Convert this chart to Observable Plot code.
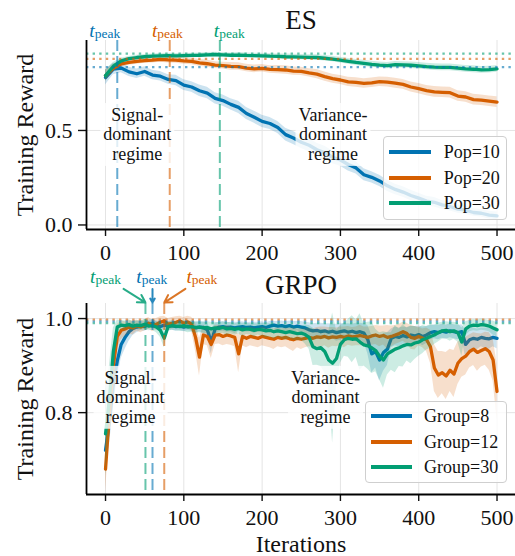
<!DOCTYPE html>
<html><head><meta charset="utf-8">
<script src="https://cdn.jsdelivr.net/npm/d3@7"></script>
<script src="https://cdn.jsdelivr.net/npm/@observablehq/plot@0.6"></script>
<style>
body{margin:0;background:#fff;}
#chart{position:relative;width:515px;height:556px;font-family:"Liberation Serif","Times New Roman",serif;overflow:hidden;background:#fff;}
#chart svg{display:block;position:absolute;left:0;}
.legend{position:absolute;background:rgba(255,255,255,0.8);border:1.2px solid #cfcfcf;border-radius:4px;box-sizing:border-box;}
.legend .sw{position:absolute;height:4px;margin-top:-2px;}
.legend .lb{position:absolute;font-size:18px;line-height:20px;transform:translateY(-50%);white-space:nowrap;color:#111;}
</style></head><body><div id="chart"></div>
<script>
// ---------------- data ----------------
const colors = ["#0173B2", "#D55E00", "#029E73"];

const esIter = [0,10,20,30,40,50,60,70,80,90,100,110,120,130,140,150,160,170,180,190,200,210,220,230,240,250,260,270,280,290,300,310,320,330,340,350,360,370,380,390,400,410,420,430,440,450,460,470,480,490,500];
const esNames = ["Pop=10", "Pop=20", "Pop=30"];
const esMeanPop10 = [0.78,0.825,0.83,0.81,0.80,0.812,0.793,0.787,0.770,0.764,
  0.740,0.730,0.710,0.698,0.670,0.658,0.638,0.622,0.590,0.570,
  0.548,0.537,0.516,0.478,0.460,0.438,0.422,0.398,0.382,0.358,
  0.344,0.320,0.302,0.266,0.252,0.233,0.207,0.188,0.174,0.156,
  0.142,0.126,0.120,0.106,0.098,0.084,0.078,0.066,0.062,0.052,
  0.048];
const esMeanPop20 = [0.79,0.83,0.852,0.860,0.866,0.870,0.872,0.876,0.873,0.872,
  0.868,0.865,0.858,0.853,0.846,0.843,0.839,0.838,0.830,0.826,
  0.829,0.823,0.822,0.820,0.814,0.813,0.805,0.798,0.785,0.774,
  0.767,0.757,0.754,0.749,0.752,0.758,0.756,0.750,0.744,0.730,
  0.721,0.711,0.704,0.702,0.700,0.682,0.677,0.663,0.660,0.655,
  0.650];
const esMeanPop30 = [0.79,0.84,0.868,0.880,0.886,0.890,0.893,0.895,0.896,0.895,
  0.896,0.897,0.898,0.900,0.902,0.900,0.898,0.899,0.897,0.896,
  0.895,0.893,0.892,0.890,0.889,0.888,0.887,0.886,0.882,0.878,
  0.872,0.866,0.860,0.855,0.850,0.846,0.843,0.848,0.847,0.845,
  0.842,0.838,0.835,0.834,0.834,0.830,0.826,0.824,0.821,0.822,
  0.826];
const esSdPop10 = [0.04,0.03,0.025,0.025,0.025,0.025,0.025,0.025,0.025,0.028,
  0.028,0.028,0.03,0.03,0.03,0.03,0.03,0.032,0.032,0.032,
  0.032,0.032,0.032,0.034,0.034,0.034,0.034,0.034,0.034,0.034,
  0.034,0.034,0.032,0.032,0.03,0.03,0.03,0.028,0.028,0.028,
  0.026,0.026,0.025,0.024,0.024,0.022,0.022,0.02,0.02,0.02,
  0.02];
const esSdPop20 = [0.03,0.02,0.016,0.015,0.015,0.015,0.015,0.015,0.016,0.016,
  0.017,0.017,0.018,0.018,0.018,0.018,0.02,0.02,0.02,0.02,
  0.02,0.02,0.022,0.022,0.022,0.022,0.022,0.024,0.024,0.024,
  0.024,0.025,0.025,0.025,0.025,0.025,0.026,0.026,0.026,0.027,
  0.027,0.027,0.028,0.028,0.028,0.028,0.028,0.028,0.028,0.028,
  0.028];
const esSdPop30 = [0.03,0.02,0.014,0.012,0.012,0.012,0.012,0.012,0.012,0.012,
  0.012,0.012,0.012,0.012,0.012,0.012,0.012,0.013,0.013,0.013,
  0.013,0.013,0.013,0.014,0.014,0.014,0.014,0.014,0.015,0.015,
  0.015,0.015,0.016,0.016,0.016,0.016,0.016,0.017,0.017,0.017,
  0.017,0.017,0.018,0.018,0.018,0.018,0.018,0.018,0.018,0.018,
  0.018];
const esPeakIter = [15, 82, 146];
const esPeakReward = [0.835, 0.879, 0.907];
const esPeakLabelX = [-1, 79, 158];

const grpoIter = [0,5,10,15,20,25,30,35,40,45,50,55,60,65,70,75,80,85,90,95,
  100,105,110,115,120,125,130,135,140,145,150,155,160,165,170,175,180,185,190,195,
  200,205,210,215,220,225,230,235,240,245,250,255,260,265,270,275,280,285,290,295,
  300,305,310,315,320,325,330,335,340,345,350,355,360,365,370,375,380,385,390,395,
  400,405,410,415,420,425,430,435,440,445,450,455,460,465,470,475,480,485,490,495,
  500];
const grpoNames = ["Group=8", "Group=12", "Group=30"];
const grpoMeanG8 = [0.72,0.78,0.86,0.91,0.945,0.96,0.972,0.979,0.982,0.984,
  0.983,0.987,0.990,0.985,0.983,0.986,0.984,0.985,0.983,0.984,
  0.982,0.984,0.983,0.980,0.982,0.981,0.976,0.950,0.978,0.982,
  0.983,0.981,0.982,0.980,0.982,0.983,0.981,0.982,0.980,0.982,
  0.983,0.981,0.984,0.986,0.984,0.985,0.983,0.985,0.982,0.984,
  0.982,0.980,0.976,0.974,0.975,0.972,0.974,0.971,0.973,0.970,
  0.972,0.974,0.971,0.973,0.970,0.972,0.969,0.955,0.925,0.930,
  0.912,0.928,0.935,0.958,0.962,0.960,0.964,0.961,0.965,0.963,
  0.966,0.962,0.965,0.970,0.972,0.970,0.973,0.971,0.974,0.972,
  0.970,0.972,0.945,0.955,0.958,0.956,0.960,0.958,0.957,0.960,
  0.958];
const grpoMeanG12 = [0.68,0.80,0.90,0.962,0.975,0.978,0.982,0.980,0.985,0.982,
  0.986,0.990,0.984,0.988,0.992,0.995,0.988,0.990,0.992,0.995,
  0.990,0.993,0.988,0.960,0.918,0.965,0.962,0.945,0.965,0.966,
  0.962,0.965,0.963,0.960,0.925,0.962,0.958,0.962,0.960,0.958,
  0.962,0.960,0.958,0.956,0.960,0.958,0.960,0.957,0.955,0.958,
  0.956,0.958,0.960,0.958,0.961,0.960,0.962,0.959,0.961,0.960,
  0.962,0.960,0.963,0.961,0.962,0.964,0.962,0.960,0.963,0.965,
  0.962,0.964,0.960,0.962,0.965,0.968,0.972,0.968,0.960,0.958,
  0.962,0.958,0.955,0.940,0.895,0.880,0.885,0.878,0.890,0.882,
  0.905,0.915,0.920,0.930,0.935,0.928,0.932,0.936,0.930,0.912,
  0.845];
const grpoMeanG30 = [0.755,0.83,0.93,0.982,0.986,0.985,0.987,0.984,0.986,0.985,
  0.988,0.984,0.985,0.982,0.975,0.958,0.983,0.985,0.984,0.983,
  0.985,0.982,0.983,0.981,0.982,0.980,0.981,0.978,0.980,0.979,
  0.981,0.978,0.979,0.977,0.979,0.976,0.978,0.977,0.975,0.977,
  0.976,0.974,0.975,0.972,0.974,0.972,0.970,0.972,0.970,0.968,
  0.969,0.966,0.960,0.940,0.936,0.938,0.930,0.912,0.905,0.915,
  0.945,0.955,0.958,0.956,0.957,0.950,0.944,0.942,0.938,0.932,
  0.920,0.912,0.925,0.930,0.935,0.938,0.942,0.945,0.944,0.948,
  0.950,0.955,0.958,0.962,0.965,0.970,0.974,0.975,0.972,0.974,
  0.970,0.950,0.978,0.984,0.986,0.985,0.987,0.986,0.984,0.980,
  0.976];
const grpoSdG8 = [0.05,0.05,0.05,0.04,0.03,0.025,0.02,0.015,0.012,0.01,
  0.01,0.01,0.008,0.01,0.01,0.01,0.01,0.01,0.01,0.01,
  0.01,0.01,0.01,0.012,0.01,0.012,0.015,0.025,0.012,0.01,
  0.01,0.01,0.01,0.012,0.01,0.01,0.01,0.01,0.012,0.01,
  0.01,0.01,0.01,0.008,0.01,0.01,0.01,0.01,0.012,0.01,
  0.012,0.012,0.015,0.015,0.015,0.018,0.015,0.018,0.015,0.018,
  0.018,0.015,0.018,0.015,0.02,0.018,0.02,0.03,0.04,0.035,
  0.045,0.04,0.035,0.02,0.02,0.02,0.018,0.02,0.018,0.02,
  0.018,0.02,0.018,0.015,0.015,0.015,0.015,0.015,0.015,0.015,
  0.015,0.015,0.03,0.025,0.022,0.022,0.02,0.022,0.022,0.02,
  0.022];
const grpoSdG12 = [0.05,0.05,0.04,0.025,0.02,0.015,0.015,0.015,0.012,0.012,
  0.012,0.012,0.012,0.012,0.012,0.01,0.012,0.012,0.012,0.01,
  0.012,0.012,0.015,0.03,0.04,0.02,0.02,0.03,0.02,0.02,
  0.02,0.02,0.02,0.02,0.04,0.02,0.02,0.02,0.02,0.02,
  0.02,0.02,0.02,0.022,0.02,0.02,0.02,0.022,0.025,0.02,
  0.022,0.02,0.02,0.02,0.02,0.022,0.02,0.022,0.02,0.02,
  0.02,0.022,0.02,0.02,0.02,0.022,0.02,0.022,0.02,0.02,
  0.022,0.02,0.025,0.022,0.02,0.02,0.02,0.022,0.025,0.025,
  0.02,0.02,0.025,0.035,0.05,0.05,0.045,0.05,0.045,0.05,
  0.045,0.04,0.04,0.035,0.035,0.04,0.035,0.035,0.04,0.045,
  0.06];
const grpoSdG30 = [0.09,0.07,0.05,0.015,0.01,0.01,0.01,0.01,0.01,0.01,
  0.01,0.01,0.01,0.012,0.015,0.02,0.01,0.01,0.01,0.01,
  0.012,0.012,0.012,0.012,0.012,0.012,0.012,0.014,0.012,0.012,
  0.012,0.014,0.012,0.012,0.012,0.014,0.012,0.012,0.014,0.012,
  0.014,0.015,0.014,0.016,0.014,0.015,0.016,0.015,0.016,0.015,
  0.015,0.02,0.025,0.04,0.035,0.04,0.045,0.06,0.17,0.06,
  0.04,0.035,0.04,0.05,0.04,0.06,0.045,0.05,0.055,0.045,
  0.05,0.06,0.045,0.04,0.05,0.04,0.045,0.035,0.04,0.035,
  0.03,0.03,0.025,0.025,0.02,0.02,0.018,0.018,0.02,0.018,
  0.02,0.03,0.015,0.012,0.012,0.012,0.012,0.012,0.012,0.015,
  0.015];
const grpoBandCap = 1.012;   // upper edge of the shaded bands never goes past this
const grpoPeakIter = [60, 75, 51];
const grpoPeakReward = [0.994, 0.998, 0.990];
const grpoPeakLabelX = [59, 123, 0];
const grpoArrowTailX = [60, 102, 23];
const grpoArrowY = [1.063, 1.034]; // tail, head

const xTicks = [0, 100, 200, 300, 400, 500];
const xDomain = [-24.3, 523.6];

// ---------------- drawing ----------------
function makePanel(cfg) {
  const marks = [
    Plot.gridX({ticks: xTicks, stroke: "#e4e4e4", strokeOpacity: 1, strokeWidth: 1}),
    Plot.gridY({ticks: cfg.yTicks, stroke: "#e4e4e4", strokeOpacity: 1, strokeWidth: 1})
  ];
  const cap = cfg.bandCap ?? Infinity;
  cfg.series.forEach((s, k) => {
    const rows = cfg.iters.map((it, i) => ({it, name: cfg.names[k], mean: s.mean[i], lo: s.mean[i] - s.sd[i], hi: Math.min(cap, s.mean[i] + s.sd[i])}));
    marks.push(Plot.areaY(rows, {x: "it", y1: "lo", y2: "hi", fill: "name", fillOpacity: 0.2}));
    marks.push(Plot.line(rows, {x: "it", y: "mean", stroke: "name", strokeWidth: 3.3}));
  });
  const peaks = cfg.names.map((n, k) => ({name: n, it: cfg.peakIter[k], reward: cfg.peakReward[k], lx: cfg.labelX[k]}));
  marks.push(Plot.ruleY(peaks, {y: "reward", stroke: "name", strokeOpacity: 0.6, strokeWidth: 2.2, strokeDasharray: "2.4,4.2"}));
  marks.push(Plot.ruleX(peaks, {x: "it", stroke: "name", strokeOpacity: 0.6, strokeWidth: 2, strokeDasharray: "11,5"}));
  if (cfg.arrowTailX) {
    const arr = cfg.names.map((n, k) => ({name: n, x1: cfg.arrowTailX[k], x2: cfg.peakIter[k], y1: cfg.arrowY[0], y2: cfg.arrowY[1]}));
    marks.push(Plot.arrow(arr, {x1: "x1", y1: "y1", x2: "x2", y2: "y2", stroke: "name", strokeWidth: 2, headLength: 9, strokeOpacity: 0.85}));
  }
  marks.push(Plot.text(cfg.annots, {x: "x", y: "y", text: "text", fontSize: 18, lineHeight: 1.08, fill: "#111"}));
  marks.push(Plot.text(peaks, {x: "lx", frameAnchor: "top", dy: cfg.tpeakDy, lineAnchor: "bottom", textAnchor: "middle", fontSize: 19.5, text: () => "TPEAK", fill: "name"}));
  marks.push(Plot.axisX({ticks: xTicks, tickSize: 7, tickPadding: 8, fontSize: 22, label: null, strokeWidth: 1.4}));
  marks.push(Plot.axisY({ticks: cfg.yTicks, tickFormat: d3.format(".1f"), tickSize: 8, tickPadding: 6, fontSize: 22, label: null, strokeWidth: 1.4}));
  marks.push(Plot.ruleX([xDomain[0]], {stroke: "#000", strokeWidth: 1.8}));
  marks.push(Plot.ruleY([cfg.yDomain[0]], {stroke: "#000", strokeWidth: 1.8}));
  marks.push(Plot.text([cfg.title], {frameAnchor: "top", dy: cfg.titleDy, lineAnchor: "bottom", textAnchor: "middle", fontSize: 27, fill: "#111"}));
  marks.push(Plot.text(["Training Reward"], {frameAnchor: "left", dx: -60.7, rotate: -90, textAnchor: "middle", lineAnchor: "middle", fontSize: 24, fill: "#111"}));
  if (cfg.xLabel) marks.push(Plot.text([cfg.xLabel], {frameAnchor: "bottom", dy: 57.7, lineAnchor: "bottom", textAnchor: "middle", fontSize: 24, fill: "#111"}));
  return Plot.plot({
    width: 515, height: cfg.height,
    marginLeft: 86, marginRight: 0, marginTop: cfg.marginTop, marginBottom: cfg.marginBottom,
    style: {fontFamily: "'Liberation Serif', 'Times New Roman', serif", background: cfg.background, color: "#111"},
    x: {domain: xDomain},
    y: {domain: cfg.yDomain},
    color: {domain: cfg.names, range: colors},
    marks
  });
}

function decorate(svg) {
  const texts = d3.select(svg).selectAll("text");
  texts.filter(function () { return this.textContent.includes("dominant"); }).each(function () {
    const b = this.getBBox(), pad = 3;
    const node = this;
    d3.select(this.parentNode).insert("rect", () => node)
      .attr("x", b.x - pad).attr("y", b.y - pad + 1)
      .attr("width", b.width + 2 * pad).attr("height", b.height + 2 * pad - 2)
      .attr("transform", this.getAttribute("transform"))
      .attr("fill", "white").attr("fill-opacity", 0.8).attr("stroke", "none");
  });
  texts.filter(function () { return this.textContent === "TPEAK"; }).each(function () {
    this.textContent = "";
    const t = d3.select(this);
    t.append("tspan").attr("font-style", "italic").attr("font-size", 19.5).text("t");
    t.append("tspan").attr("font-size", 13.5).attr("dy", 1).text("peak");
  });
}

function addLegend(container, cfg) {
  const box = document.createElement("div");
  box.className = "legend";
  Object.assign(box.style, {left: cfg.left + "px", top: cfg.top + "px", width: cfg.width + "px", height: cfg.height + "px"});
  cfg.names.forEach((n, k) => {
    const sw = document.createElement("div");
    sw.className = "sw";
    Object.assign(sw.style, {left: cfg.swLeft + "px", width: cfg.swWidth + "px", top: cfg.rowY[k] + "px", background: colors[k]});
    const lb = document.createElement("div");
    lb.className = "lb";
    Object.assign(lb.style, {left: cfg.textLeft + "px", top: cfg.rowY[k] + "px"});
    lb.textContent = n;
    box.appendChild(sw); box.appendChild(lb);
  });
  container.appendChild(box);
}

const chart = document.getElementById("chart");

const esPlot = makePanel({
  iters: esIter, names: esNames,
  series: [{mean: esMeanPop10, sd: esSdPop10}, {mean: esMeanPop20, sd: esSdPop20}, {mean: esMeanPop30, sd: esSdPop30}],
  peakIter: esPeakIter, peakReward: esPeakReward, labelX: esPeakLabelX,
  yDomain: [-0.024, 0.976], yTicks: [0, 0.5],
  height: 275, marginTop: 40, marginBottom: 46, background: "white",
  title: "ES", titleDy: -12, tpeakDy: -4,
  annots: [{x: 40.5, y: 0.48, text: "Signal-\ndominant\nregime"}, {x: 290.5, y: 0.48, text: "Variance-\ndominant\nregime"}]
});
const grpoPlot = makePanel({
  iters: grpoIter, names: grpoNames,
  series: [{mean: grpoMeanG8, sd: grpoSdG8}, {mean: grpoMeanG12, sd: grpoSdG12}, {mean: grpoMeanG30, sd: grpoSdG30}],
  bandCap: grpoBandCap,
  peakIter: grpoPeakIter, peakReward: grpoPeakReward, labelX: grpoPeakLabelX,
  arrowTailX: grpoArrowTailX, arrowY: grpoArrowY,
  yDomain: [0.626, 1.032], yTicks: [0.8, 1.0],
  height: 294, marginTop: 41, marginBottom: 62, background: "transparent",
  title: "GRPO", titleDy: -9.7, tpeakDy: -21, xLabel: "Iterations",
  annots: [{x: 32, y: 0.833, text: "Signal-\ndominant\nregime"}, {x: 281, y: 0.833, text: "Variance-\ndominant\nregime"}]
});
esPlot.style.top = "0px";
grpoPlot.style.top = "262px";
chart.appendChild(esPlot);
chart.appendChild(grpoPlot);
decorate(esPlot);
decorate(grpoPlot);

addLegend(chart, {names: esNames, left: 383, top: 136, width: 124, height: 84, swLeft: 5, swWidth: 42, rowY: [15, 40.7, 65.7], textLeft: 59.7});
addLegend(chart, {names: grpoNames, left: 365, top: 401, width: 142, height: 82, swLeft: 5, swWidth: 41, rowY: [14, 39.7, 65], textLeft: 58});
</script></body></html>
